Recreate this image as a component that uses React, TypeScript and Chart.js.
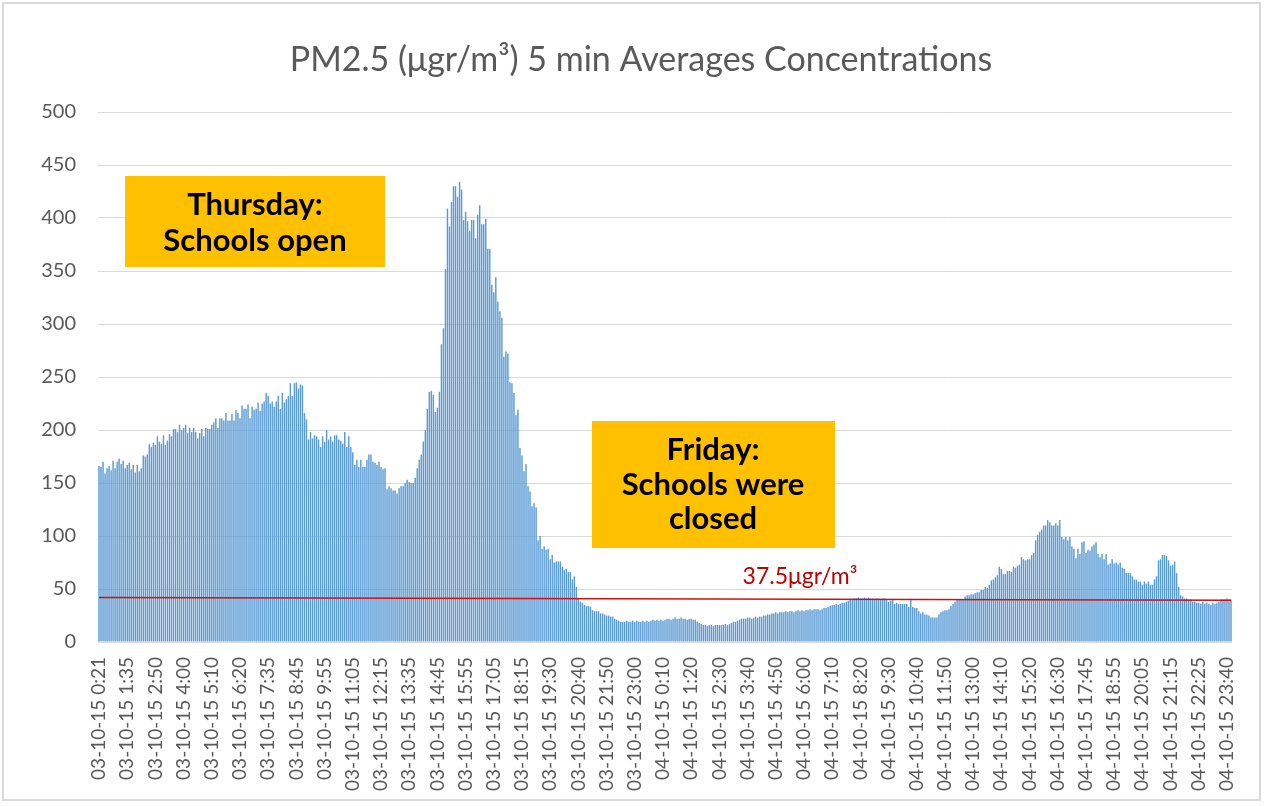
import React, { useEffect, useRef } from 'react';
import { Chart, registerables } from 'chart.js';

Chart.register(...registerables);

// Visible tick labels (one every 14 bars)
const tickLabels = [
  '03-10-15 0:21', '03-10-15 1:35', '03-10-15 2:50', '03-10-15 4:00', '03-10-15 5:10',
  '03-10-15 6:20', '03-10-15 7:35', '03-10-15 8:45', '03-10-15 9:55', '03-10-15 11:05',
  '03-10-15 12:15', '03-10-15 13:35', '03-10-15 14:45', '03-10-15 15:55', '03-10-15 17:05',
  '03-10-15 18:15', '03-10-15 19:30', '03-10-15 20:40', '03-10-15 21:50', '03-10-15 23:00',
  '04-10-15 0:10', '04-10-15 1:20', '04-10-15 2:30', '04-10-15 3:40', '04-10-15 4:50',
  '04-10-15 6:00', '04-10-15 7:10', '04-10-15 8:20', '04-10-15 9:30', '04-10-15 10:40',
  '04-10-15 11:50', '04-10-15 13:00', '04-10-15 14:10', '04-10-15 15:20', '04-10-15 16:30',
  '04-10-15 17:45', '04-10-15 18:55', '04-10-15 20:05', '04-10-15 21:15', '04-10-15 22:25',
  '04-10-15 23:40',
];
const LABEL_STEP = 14;

// PM2.5 5-min averages (µgr/m³)
const thursdayEarly = [
  166, 165, 170, 159, 164, 166, 162, 171, 164, 170, 173, 168, 171, 164, 167, 169, 163, 167, 160, 167,
  161, 164, 176, 175, 177, 187, 184, 188, 186, 194, 189, 187, 195, 186, 190, 196, 194, 201, 201, 198,
  205, 200, 202, 205, 197, 202, 198, 202, 198, 192, 197, 201, 194, 202, 201, 201,
  205, 207, 211, 202, 211, 211, 209, 216, 209, 209, 215, 209, 219, 216, 211, 223, 220, 220, 224, 211,
  222, 219, 220, 226, 218, 225, 227, 235, 232, 225, 227, 222, 227, 232, 220, 235, 226, 229, 232, 244,
  232, 244, 245, 239, 243, 242, 216, 210, 191, 198, 192, 195, 194, 191,
];
const thursdayMidday = [
  184, 194, 189, 200, 191, 194, 189, 195, 195, 191, 190, 187, 198, 184, 194, 184, 179, 167, 172, 165,
  172, 165, 165, 172, 177, 177, 170, 169, 167, 170, 165, 163, 164, 144, 147, 145, 143, 143, 140, 145,
  147, 147, 150, 153, 151, 150, 150, 155, 164, 172, 177, 189, 200, 220, 236,
];
const thursdayPeak = [
  237, 233, 217, 221, 236, 281, 296, 352, 409, 392, 415, 430, 430, 420, 434, 427, 398, 406, 397, 388,
  398, 398, 381, 403, 412, 394, 394, 399, 371, 371, 337, 330, 344, 321, 312, 306, 269, 274, 272, 245,
  244, 235, 214, 219, 183, 176, 161, 168, 147, 142, 128, 131, 127, 96,
];
const thursdayEvening = [
  100, 88, 90, 87, 88, 78, 82, 75, 76, 76, 76, 71, 68, 69, 66, 66, 59, 62, 52, 41,
  38, 37, 35, 34, 34, 33, 30, 29, 29, 29, 27, 27, 26, 25, 25, 24, 24, 22, 21, 20,
  19, 19, 19, 20, 19, 19, 20, 19, 20, 19, 19, 20, 19, 20, 19,
];
const fridayNight = [
  20, 21, 20, 21, 20, 21, 20, 21,
  22, 22, 21, 22, 23, 22, 22, 23, 22, 22, 21, 22, 22, 21, 21,
  19, 18, 17,
  16, 16, 15, 16, 16, 15, 16, 16, 16, 16, 16, 17, 16, 17,
  18, 19, 19, 20, 21,
  22, 22, 22, 23, 23, 22, 23, 24, 23, 24,
];
const fridayMorning = [
  24, 25, 25, 26, 26, 27, 27, 28, 27, 28, 28, 28, 29, 28, 29, 29, 28, 29, 30, 29,
  30, 29, 30, 30, 31, 30, 31, 31, 31, 30, 31, 32, 32, 33, 34, 35, 35, 36, 35, 36,
  37, 37, 38, 39, 40, 40, 41, 41, 42, 41, 41, 42, 41, 42, 41,
];
const fridayMidday = [
  41, 40, 41, 41, 40, 41, 41, 40, 38, 39, 40, 36, 37, 36, 36, 36, 36, 36, 33, 40,
  33, 32, 32, 29, 27, 28, 26, 26, 25, 23, 23, 23, 23, 26, 28, 29, 30, 30, 31, 34,
  36, 38, 40, 40, 40, 40, 43, 44, 44, 45, 45, 46, 47, 47,
];
const fridayAfternoon = [
  49, 49, 52, 51, 54, 58, 59, 61, 63, 71, 69, 64, 64, 67, 67, 66, 71, 70, 72, 73,
  80, 78, 77, 78, 78, 82, 84, 96, 101, 104, 106, 110, 110, 115, 113, 110, 110, 112, 110, 115,
  99, 97, 99, 96, 99, 90, 88, 79, 88, 83, 94, 95, 84, 87, 86,
];
const fridayEvening = [
  90, 92, 94, 83, 80, 83, 78, 83, 73, 74, 78, 74, 75, 73, 75, 70, 69, 65, 65, 65,
  62, 59, 59, 57, 57, 54, 57, 55, 57, 54, 54, 59, 62, 77, 78, 82, 82, 81, 77, 72,
  73, 76, 65, 52, 44, 43, 41, 41, 40, 40, 38, 38, 37, 37, 36, 38, 36, 37, 36, 35,
  37, 36, 37, 38, 40, 40, 40, 41, 40, 40,
];

// Limit line as drawn: value at first and last bar
const limitLineEnds = [42, 39.5];
const limitLabel = '37.5μgr/m³';

const titleText = 'PM2.5 (μgr/m³) 5 min Averages Concentrations';
const thursdayNote = ['Thursday:', 'Schools open'];
const fridayNote = ['Friday:', 'Schools were', 'closed'];

const FONT = 'Lato, "Open Sans", "Liberation Sans", sans-serif';

const pm25 = [
  ...thursdayEarly, ...thursdayMidday, ...thursdayPeak, ...thursdayEvening,
  ...fridayNight, ...fridayMorning, ...fridayMidday, ...fridayAfternoon, ...fridayEvening,
];

const categories = pm25.map((_, i) =>
  i % LABEL_STEP === 0 && tickLabels[i / LABEL_STEP] !== undefined ? tickLabels[i / LABEL_STEP] : ''
);

const limitData = pm25.map((_, i) =>
  i === 0 ? limitLineEnds[0] : i === pm25.length - 1 ? limitLineEnds[1] : null
);

const decorPlugin = {
  id: 'decor',
  beforeDraw(chart: any) {
    const ctx = chart.ctx;
    ctx.save();
    ctx.fillStyle = '#ffffff';
    ctx.fillRect(0, 0, chart.width, chart.height);
    ctx.strokeStyle = '#D9D9D9';
    ctx.lineWidth = 2;
    ctx.strokeRect(3, 3, 1257, 797);
    ctx.restore();
  },
  afterDraw(chart: any) {
    const ctx = chart.ctx;
    ctx.save();
    // title
    ctx.fillStyle = '#595959';
    ctx.font = `34px ${FONT}`;
    ctx.textAlign = 'center';
    ctx.textBaseline = 'middle';
    ctx.fillText(titleText, 641, 60);

    // Thursday box
    ctx.fillStyle = '#FFC000';
    ctx.fillRect(125, 176, 260, 91);
    ctx.fillStyle = '#000000';
    ctx.font = `bold 31px ${FONT}`;
    thursdayNote.forEach((t, k) => ctx.fillText(t, 255, 205 + k * 36));

    // Friday box
    ctx.fillStyle = '#FFC000';
    ctx.fillRect(592, 421, 243, 127);
    ctx.fillStyle = '#000000';
    fridayNote.forEach((t, k) => ctx.fillText(t, 713, 450 + k * 34.5));

    // limit label
    ctx.fillStyle = '#C00000';
    ctx.font = `23px ${FONT}`;
    ctx.fillText(limitLabel, 800, 577);
    ctx.restore();
  },
};

export default function App() {
  const canvasRef = useRef<HTMLCanvasElement>(null);

  useEffect(() => {
    const canvas = canvasRef.current;
    if (!canvas) return;
    const chart = new Chart(canvas, {
      type: 'bar',
      data: {
        labels: categories,
        datasets: [
          {
            type: 'line',
            label: 'Limit',
            data: limitData as any,
            borderColor: '#D01010',
            borderWidth: 1.5,
            pointRadius: 0,
            spanGaps: true,
            order: 0,
          } as any,
          {
            type: 'bar',
            label: 'PM2.5',
            data: pm25,
            backgroundColor: '#5B9BD5',
            borderWidth: 0,
            barPercentage: 0.72,
            categoryPercentage: 1,
            order: 1,
          },
        ],
      },
      options: {
        responsive: false,
        animation: false,
        devicePixelRatio: 1,
        layout: { padding: { left: 0, right: 36, top: 112, bottom: 0 } },
        plugins: {
          legend: { display: false },
          title: { display: false },
          tooltip: { enabled: false },
        },
        scales: {
          x: {
            grid: { display: false },
            border: { display: false },
            ticks: {
              autoSkip: false,
              maxRotation: 90,
              minRotation: 90,
              padding: 7,
              color: '#595959',
              font: { family: FONT, size: 19 },
            },
            afterFit(scale: any) {
              scale.height = 164;
            },
          },
          y: {
            min: 0,
            max: 500,
            border: { display: false },
            grid: { color: '#D9D9D9', lineWidth: 1, drawTicks: false },
            ticks: {
              stepSize: 50,
              padding: 22,
              color: '#595959',
              font: { family: FONT, size: 20 },
            },
            afterFit(scale: any) {
              scale.width = 98;
            },
          },
        },
      },
      plugins: [decorPlugin],
    });
    return () => chart.destroy();
  }, []);

  return (
    <div style={{ position: 'fixed', left: 0, top: 0, width: 1268, height: 806, background: '#fff' }}>
      <canvas ref={canvasRef} width={1268} height={806} style={{ display: 'block' }} />
    </div>
  );
}
